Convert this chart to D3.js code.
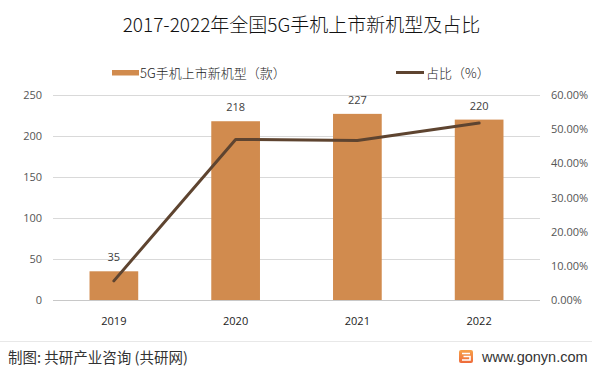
<!DOCTYPE html>
<html><head><meta charset="utf-8">
<script src="https://cdn.jsdelivr.net/npm/d3@7/dist/d3.min.js"></script>
<style>body{margin:0;background:#fff;}svg{display:block;font-family:"Noto Sans CJK SC","Noto Sans",sans-serif;}</style>
</head><body>
<script>
const categories = ["2019","2020","2021","2022"];
const models = [35,218,227,220];
const share = [5.6,47.0,46.7,51.8];
const leftTicks = [0,50,100,150,200,250];
const rightTicks = [0,10,20,30,40,50,60];
const title = "2017-2022年全国5G手机上市新机型及占比";
const barName = "5G手机上市新机型（款）";
const lineName = "占比（%）";

const W=600,H=374;
const svg=d3.select("body").append("svg").attr("width",W).attr("height",H);
const m={l:53,r:540,t:95,b:300};
const x=d3.scaleBand().domain(categories).range([m.l,m.r]).paddingInner(0.6).paddingOuter(0.3);
const yL=d3.scaleLinear().domain([0,250]).range([m.b,m.t]);
const yR=d3.scaleLinear().domain([0,60]).range([m.b,m.t]);

svg.append("text").attr("x",301.5).attr("y",31.5).attr("text-anchor","middle")
  .attr("font-size",19).attr("font-weight",300).attr("fill","#111").text(title);

// grid
svg.append("g").selectAll("line").data(leftTicks).join("line")
  .attr("x1",m.l).attr("x2",m.r).attr("y1",d=>yL(d)).attr("y2",d=>yL(d))
  .attr("stroke",d=>d===0?"#c8c8c8":"#d9d9d9").attr("stroke-width",1).attr("shape-rendering","crispEdges");

// left axis labels
svg.append("g").selectAll("text").data(leftTicks).join("text")
  .attr("x",42).attr("y",d=>yL(d)+4).attr("text-anchor","end").attr("font-size",11).attr("fill","#555")
  .attr("font-family","'Open Sans','Noto Sans',sans-serif").text(d=>d);
// right axis labels
svg.append("g").selectAll("text").data(rightTicks).join("text")
  .attr("x",551).attr("y",d=>yR(d)+4).attr("text-anchor","start").attr("font-size",11).attr("fill","#555")
  .attr("font-family","'Open Sans','Noto Sans',sans-serif").text(d=>d.toFixed(2)+"%");

// bars
svg.append("g").selectAll("rect").data(models).join("rect")
  .attr("x",(d,i)=>x(categories[i])).attr("width",x.bandwidth())
  .attr("y",d=>yL(d)).attr("height",d=>yL(0)-yL(d)).attr("fill","#D18B4E");
svg.append("g").selectAll("text").data(models).join("text")
  .attr("x",(d,i)=>x(categories[i])+x.bandwidth()/2).attr("y",d=>yL(d)-10)
  .attr("text-anchor","middle").attr("font-size",11).attr("fill","#404040")
  .attr("font-family","'Open Sans','Noto Sans',sans-serif").text(d=>d);

// line
const line=d3.line().x((d,i)=>x(categories[i])+x.bandwidth()/2).y(d=>yR(d));
svg.append("path").datum(share).attr("d",line).attr("fill","none")
  .attr("stroke","#5E4430").attr("stroke-width",3).attr("stroke-linejoin","round").attr("stroke-linecap","round");

// x labels
svg.append("g").selectAll("text").data(categories).join("text")
  .attr("x",d=>x(d)+x.bandwidth()/2).attr("y",325).attr("text-anchor","middle")
  .attr("font-size",11).attr("fill","#222").attr("font-family","'Open Sans','Noto Sans',sans-serif").text(d=>d);

// legend
svg.append("rect").attr("x",112).attr("y",70).attr("width",27).attr("height",5.5).attr("fill","#D18B4E");
svg.append("text").attr("x",140).attr("y",77.5).attr("font-size",13).attr("font-weight",300).attr("fill","#222").text(barName);
svg.append("line").attr("x1",396).attr("x2",424).attr("y1",72.5).attr("y2",72.5).attr("stroke","#5E4430").attr("stroke-width",3);
svg.append("text").attr("x",426).attr("y",77.5).attr("font-size",13).attr("font-weight",300).attr("fill","#222").text(lineName);

// footer
svg.append("line").attr("x1",0).attr("x2",592).attr("y1",341.5).attr("y2",341.5).attr("stroke","#e8e8e8");
svg.append("text").attr("x",8).attr("y",363).attr("font-size",14.5).attr("fill","#333").text("制图: 共研产业咨询 (共研网)");
const defs=svg.append("defs");
const gr=defs.append("linearGradient").attr("id","lg").attr("x1",0).attr("y1",0).attr("x2",0).attr("y2",1);
gr.append("stop").attr("offset","0%").attr("stop-color","#F7A24A");
gr.append("stop").attr("offset","100%").attr("stop-color","#EE6A3A");
svg.append("rect").attr("x",459).attr("y",350).attr("width",14).attr("height",13).attr("rx",2).attr("fill","url(#lg)");
svg.append("path").attr("d","M462,353.5 H470 M463.5,356.5 H470 V360 H462").attr("fill","none").attr("stroke","#fff").attr("stroke-width",1.6);
svg.append("text").attr("x",482).attr("y",362).attr("font-size",14.5).attr("fill","#333")
  .attr("font-family","'Liberation Sans',Arial,sans-serif").text("www.gonyn.com");
</script>
</body></html>
